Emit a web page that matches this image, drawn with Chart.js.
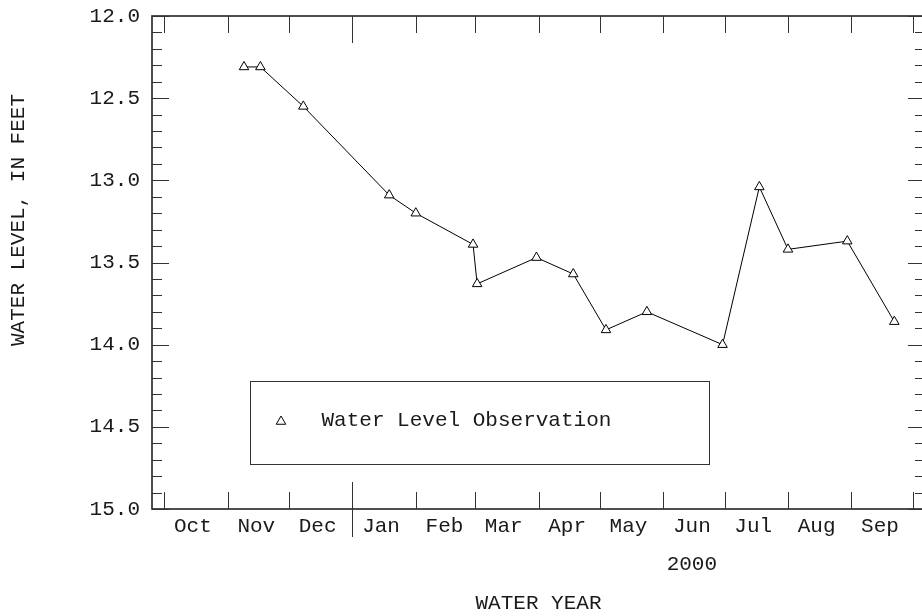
<!DOCTYPE html>
<html><head><meta charset="utf-8">
<script src="https://cdn.jsdelivr.net/npm/chart.js@4.4.0/dist/chart.umd.min.js"></script>
<style>
html,body{margin:0;padding:0;background:#fff;overflow:hidden;width:922px;height:616px}
#wrap{position:absolute;left:0;top:0;width:940px;height:616px}
</style></head><body>
<div id="wrap"><canvas id="c" width="940" height="616"></canvas></div>
<script>
// ---- data ----
const obsDates = ['1999-11-09','1999-11-17','1999-12-08','2000-01-19','2000-02-01','2000-02-29','2000-03-02','2000-03-31','2000-04-18','2000-05-04','2000-05-24','2000-06-30','2000-07-18','2000-08-01','2000-08-30','2000-09-22'];
const waterLevels = [12.31,12.31,12.55,13.09,13.20,13.39,13.63,13.47,13.57,13.91,13.80,14.00,13.04,13.42,13.37,13.86];
const monthLabels = ['Oct','Nov','Dec','Jan','Feb','Mar','Apr','May','Jun','Jul','Aug','Sep'];
const yearLabel = '2000';
const yTickLabels = ['12.0','12.5','13.0','13.5','14.0','14.5','15.0'];
const seriesName = 'Water Level Observation';
const yTitle = 'WATER LEVEL, IN FEET';
const xTitle = 'WATER YEAR';

// ---- helpers ----
const T0 = Date.UTC(1999, 9, 1);
function dayOf(s){ const [y,m,d] = s.split('-').map(Number); return (Date.UTC(y,m-1,d) - T0) / 864e5; }
const monthStarts = [], monthStartIsJan = [], monthMids = [];
for (let i = 0; i <= 12; i++){ const t = Date.UTC(1999, 9 + i, 1); monthStarts.push((t - T0)/864e5); monthStartIsJan.push(new Date(t).getUTCMonth() === 0); }
for (let i = 0; i < 12; i++){ monthMids.push((Date.UTC(1999, 9 + i, 15) - T0)/864e5); }
const xMin = dayOf('1999-09-25'), xMax = dayOf('2000-10-07');
const yearIdx = monthLabels.indexOf('Jun');

const FAM = "'Liberation Mono', 'Courier New', monospace";
const FONT = {family: FAM, size: 21};
const TXT = '#1a1a1a';

function zeroPad(s){ s.paddingTop = 0; s.paddingBottom = 0; s.paddingLeft = 0; s.paddingRight = 0; }

const framePlugin = {
  id: 'frame',
  afterDraw(chart){
    const {ctx, chartArea: a, scales: {x, y}} = chart;
    ctx.save();
    ctx.strokeStyle = '#222'; ctx.lineWidth = 1.6;
    ctx.strokeRect(a.left, a.top, a.right - a.left, a.bottom - a.top);
    ctx.lineWidth = 1; ctx.strokeStyle = '#333';
    ctx.beginPath();
    for (let k = 0; k <= 30; k++){
      const py = Math.round(y.getPixelForValue(12 + k * 0.1)) + 0.5;
      const len = (k % 5 === 0) ? 17 : 10;
      ctx.moveTo(a.left, py); ctx.lineTo(a.left + len, py);
      ctx.moveTo(a.right, py); ctx.lineTo(a.right - len, py);
    }
    monthStarts.forEach((d, i) => {
      const px = Math.round(x.getPixelForValue(d)) + 0.5;
      if (monthStartIsJan[i]){
        ctx.moveTo(px, a.top); ctx.lineTo(px, a.top + 27);
        ctx.moveTo(px, a.bottom - 27); ctx.lineTo(px, a.bottom + 28);
      } else {
        ctx.moveTo(px, a.top); ctx.lineTo(px, a.top + 17);
        ctx.moveTo(px, a.bottom - 17); ctx.lineTo(px, a.bottom);
      }
    });
    ctx.stroke();
    ctx.restore();
  }
};

const legendPlugin = {
  id: 'boxLegend',
  afterDraw(chart){
    const ctx = chart.ctx, ds = chart.data.datasets[0];
    ctx.save();
    ctx.strokeStyle = '#333'; ctx.lineWidth = 1;
    ctx.strokeRect(250.5, 381.5, 459, 83);
    ctx.strokeStyle = '#000'; ctx.fillStyle = '#fff';
    Chart.helpers.drawPoint(ctx, {pointStyle: 'triangle', radius: 5.5, borderWidth: 1, rotation: 0}, 281, 421.5);
    ctx.fillStyle = TXT; ctx.font = "21px " + FAM;
    ctx.textAlign = 'left'; ctx.textBaseline = 'middle';
    ctx.fillText(ds.label, 321.5, 420);
    ctx.restore();
  }
};

const yTitlePlugin = {
  id: 'yTitle',
  afterDraw(chart){
    const ctx = chart.ctx;
    ctx.save();
    ctx.translate(18, 220); ctx.rotate(-Math.PI/2);
    ctx.fillStyle = TXT; ctx.font = "21px " + FAM;
    ctx.textAlign = 'center'; ctx.textBaseline = 'middle';
    ctx.fillText(yTitle, 0, 0);
    ctx.restore();
  }
};

new Chart(document.getElementById('c'), {
  type: 'line',
  data: { datasets: [{
    label: seriesName,
    data: obsDates.map((d, i) => ({x: dayOf(d), y: waterLevels[i]})),
    borderColor: '#000', borderWidth: 1, tension: 0, fill: false,
    pointStyle: 'triangle', pointRadius: 5.5, pointBackgroundColor: '#fff',
    pointBorderColor: '#000', pointBorderWidth: 1
  }]},
  options: {
    responsive: false, animation: false, devicePixelRatio: 1,
    layout: {padding: {top: 16, right: 15, left: 0, bottom: 0}},
    plugins: {legend: {display: false}, tooltip: {enabled: false}},
    scales: {
      x: {
        type: 'linear', position: 'bottom', min: xMin, max: xMax,
        afterBuildTicks: s => { s.ticks = monthMids.map(v => ({value: v})); },
        afterFit: s => { s.height = 107; zeroPad(s); },
        ticks: {autoSkip: false, maxRotation: 0, minRotation: 0, padding: -1, color: TXT,
          font: {family: FAM, size: 21, lineHeight: 1.8},
          callback: (v, i) => i === yearIdx ? [monthLabels[i], yearLabel] : monthLabels[i]},
        grid: {display: false, drawTicks: false}, border: {display: false},
        title: {display: true, text: xTitle, color: TXT, font: FONT, padding: 0}
      },
      y: {
        type: 'linear', reverse: true, min: 12, max: 15,
        afterBuildTicks: s => { s.ticks = yTickLabels.map(t => ({value: parseFloat(t)})); },
        afterFit: s => { s.width = 152; zeroPad(s); },
        ticks: {autoSkip: false, padding: 12, color: TXT, font: FONT, callback: (v, i) => yTickLabels[i]},
        grid: {display: false, drawTicks: false}, border: {display: false}
      }
    }
  },
  plugins: [framePlugin, legendPlugin, yTitlePlugin]
});
</script>
</body></html>
